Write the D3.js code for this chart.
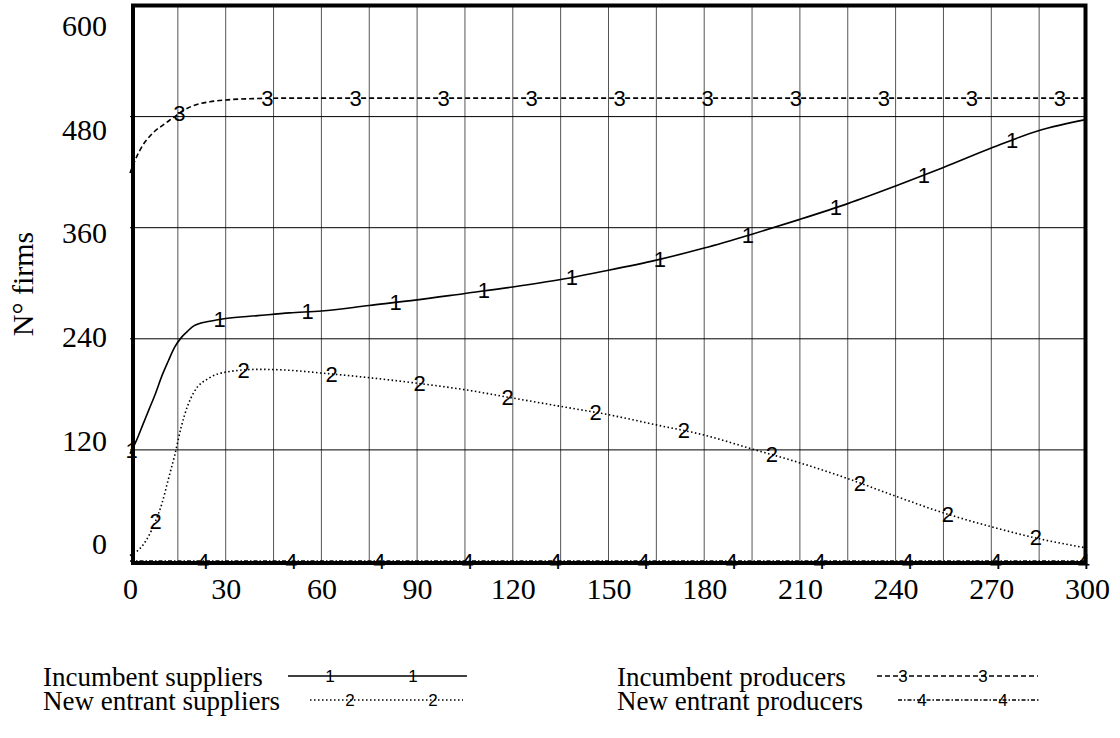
<!DOCTYPE html>
<html>
<head>
<meta charset="utf-8">
<script src="https://cdn.jsdelivr.net/npm/d3@7"></script>
<style>
  body { margin: 0; background: #fff; }
  svg { display: block; }
</style>
</head>
<body>
<div id="chart"></div>
<script>
// date
var times = [0, 2, 4, 6, 8, 10, 12, 14, 16, 18, 20, 25, 30, 40, 50, 60, 75, 90, 105, 120,
  135, 150, 165, 180, 195, 210, 225, 240, 255, 270, 285, 300];
var incumbentSuppliers = [116, 130, 147, 164, 181, 200, 216, 231, 241, 248, 254, 259, 262, 265, 268, 270, 276, 282, 289, 296,
  304, 314, 325, 338, 353, 369, 386, 405, 425, 446, 465, 477];
var newEntrantSuppliers = [6, 10, 17, 28, 43, 62, 88, 114, 144, 167, 182, 198, 204, 207, 206, 203, 198, 192, 185, 176,
  167, 158, 147, 136, 121, 106, 89, 70, 52, 37, 24, 14];
var incumbentProducers = [419, 436, 449, 458, 465, 470, 475, 480, 485, 489, 492, 496, 498, 499.5, 500, 500, 500, 500, 500, 500,
  500, 500, 500, 500, 500, 500, 500, 500, 500, 500, 500, 500];
var newEntrantProducers = [0, 0, 0, 0, 0, 0, 0, 0, 0, 0, 0, 0, 0, 0, 0, 0, 0, 0, 0, 0,
  0, 0, 0, 0, 0, 0, 0, 0, 0, 0, 0, 0];
var seriesNames = ["Incumbent suppliers", "New entrant suppliers", "Incumbent producers", "New entrant producers"];
var xTicks = [0, 30, 60, 90, 120, 150, 180, 210, 240, 270, 300];
var yTicks = [0, 120, 240, 360, 480, 600];
var yTitle = "N° firms";

var svgWidth = 1120;
var svgHeight = 738;
var serif = "'Liberation Serif', 'Times New Roman', serif";
var sans = "'Liberation Sans', Arial, sans-serif";

var svg = d3.select("#chart")
    .append("svg")
    .attr("width", svgWidth)
    .attr("height", svgHeight);

// scale
var x = d3.scaleLinear().domain([0, 300]).range([130, 1087]);
var y = d3.scaleLinear().domain([0, 600]).range([561, 5.5]);
// etichetele axei Y sunt distribuite pe un interval mai strans (stil Vensim)
var yLab = d3.scaleLinear().domain([0, 600]).range([544, 26]);

// grila verticala (la fiecare 15)
svg.append("g")
    .selectAll("line")
    .data(d3.range(15, 300, 15))
    .join("line")
    .attr("x1", function (d) { return x(d); })
    .attr("x2", function (d) { return x(d); })
    .attr("y1", y(600))
    .attr("y2", y(0))
    .attr("stroke", "#555")
    .attr("stroke-width", 1);

// grila orizontala
svg.append("g")
    .selectAll("line")
    .data([120, 240, 360, 480])
    .join("line")
    .attr("x1", x(0))
    .attr("x2", x(300))
    .attr("y1", function (d) { return y(d); })
    .attr("y2", function (d) { return y(d); })
    .attr("stroke", "#000")
    .attr("stroke-width", 1);

// cadru
svg.append("rect")
    .attr("x", 133)
    .attr("y", 5.5)
    .attr("width", 952.5)
    .attr("height", 557.5)
    .attr("fill", "none")
    .attr("stroke", "#000")
    .attr("stroke-width", 4);

// axa X
var gx = svg.append("g")
    .attr("transform", "translate(0,578)")
    .call(d3.axisBottom(x).tickValues(xTicks).tickSize(0).tickPadding(0));
gx.select(".domain").remove();
gx.selectAll("text")
    .attr("font-family", serif)
    .attr("font-size", 30)
    .attr("fill", "#000");

// axa Y
var gy = svg.append("g")
    .attr("transform", "translate(107,0)")
    .call(d3.axisLeft(yLab).tickValues(yTicks).tickSize(0).tickPadding(0));
gy.select(".domain").remove();
gy.selectAll("text")
    .attr("font-family", serif)
    .attr("font-size", 30)
    .attr("fill", "#000");

svg.append("text")
    .attr("transform", "translate(22,284) rotate(-90)")
    .attr("text-anchor", "middle")
    .attr("dominant-baseline", "central")
    .attr("font-family", serif)
    .attr("font-size", 30)
    .text(yTitle);

// seriile
var series = [incumbentSuppliers, newEntrantSuppliers, incumbentProducers, newEntrantProducers];
var dashes = [null, "1.5,2.5", "5,3", "4,2,1.5,2"];

var line = d3.line()
    .x(function (d, i) { return x(times[i]); })
    .y(function (d) { return y(d); })
    .curve(d3.curveMonotoneX);

function valueAt(values, t) {
    var i = d3.bisectRight(times, t) - 1;
    if (i >= times.length - 1) return values[times.length - 1];
    var f = (t - times[i]) / (times[i + 1] - times[i]);
    return values[i] + f * (values[i + 1] - values[i]);
}

series.forEach(function (values, k) {
    svg.append("path")
        .datum(values)
        .attr("fill", "none")
        .attr("stroke", "#000")
        .attr("stroke-width", 1.6)
        .attr("stroke-dasharray", dashes[k])
        .attr("d", line);

    // numerele de pe linii
    var marks = d3.range(0.5 + k * 7.5, 300.5, 27.6);
    svg.append("g")
        .selectAll("text")
        .data(marks)
        .join("text")
        .attr("x", function (t) { return x(t); })
        .attr("y", function (t) { return y(valueAt(values, t)); })
        .attr("text-anchor", "middle")
        .attr("dominant-baseline", "central")
        .attr("font-family", sans)
        .attr("font-size", 22)
        .text(k + 1);
});

// legenda
var legendItems = [
    { col: 43, row: 686, x1: 288, x2: 467, m: [330, 413] },
    { col: 43, row: 710, x1: 310, x2: 463, m: [350, 433] },
    { col: 617, row: 686, x1: 877, x2: 1038, m: [903, 983] },
    { col: 617, row: 710, x1: 898, x2: 1040, m: [922, 1003] }
];

legendItems.forEach(function (it, k) {
    var g = svg.append("g");
    g.append("text")
        .attr("x", it.col)
        .attr("y", it.row)
        .attr("font-family", serif)
        .attr("font-size", 27)
        .text(seriesNames[k]);
    g.append("line")
        .attr("x1", it.x1)
        .attr("x2", it.x2)
        .attr("y1", it.row - 10)
        .attr("y2", it.row - 10)
        .attr("stroke", "#000")
        .attr("stroke-width", 1.6)
        .attr("stroke-dasharray", dashes[k]);
    g.selectAll("text.m")
        .data(it.m)
        .join("text")
        .attr("class", "m")
        .attr("x", function (d) { return d; })
        .attr("y", it.row - 10)
        .attr("text-anchor", "middle")
        .attr("dominant-baseline", "central")
        .attr("font-family", sans)
        .attr("font-size", 17)
        .text(k + 1);
});
</script>
</body>
</html>
